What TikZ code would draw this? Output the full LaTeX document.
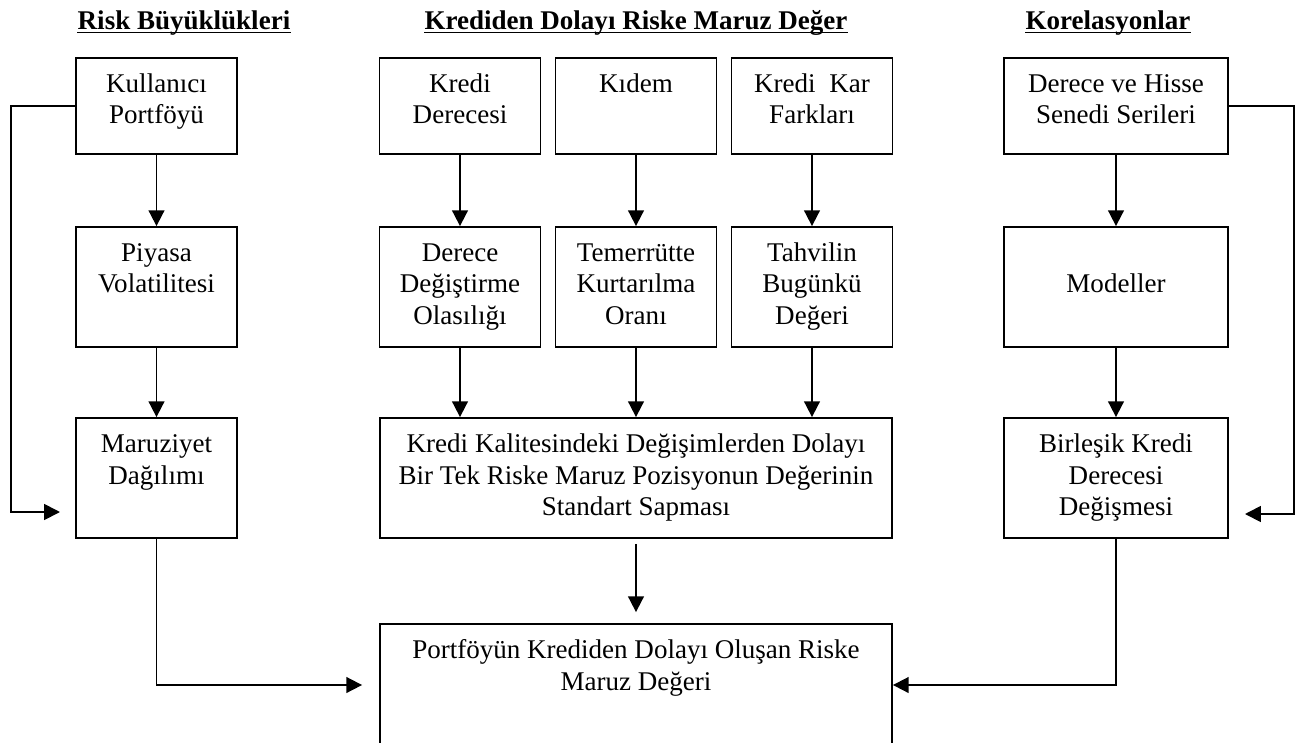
\documentclass[tikz,border=0pt]{standalone}
\usepackage{fontspec}
\setmainfont{Liberation Serif}
\usetikzlibrary{arrows.meta}

\newdimen\px \px=0.444pt % one pixel of the page
% box text: width, height, lines (first line sits at the top)
\newcommand{\kutuyazi}[3]{\parbox[c][#2\px][t]{#1\px}{\centering\rule{0pt}{15.5pt}#3}}

\tikzset{
  kutu/.style={draw, line width=0.8pt, inner sep=0pt, font=\fontsize{12}{13.8}\selectfont},
  ok/.style={-{Triangle[length=7pt,width=7pt]}, line width=0.8pt},
  baslik/.style={font=\fontsize{12}{13.8}\selectfont\bfseries, anchor=base, inner sep=0pt}
}

\begin{document}
\begin{tikzpicture}[x=0.444pt, y=-0.444pt]
    \useasboundingbox (0,0) rectangle (1301,742);

    % headings
    \node[baslik] (b1) at (184,29) {Risk Büyüklükleri};
    \node[baslik] (b2) at (636,29) {Krediden Dolayı Riske Maruz Değer};
    \node[baslik] (b3) at (1108,29) {Korelasyonlar};
    \foreach \b in {b1,b2,b3}
        \draw[line width=0.8pt] ([yshift=-3.5\px]\b.base west) -- ([yshift=-3.5\px]\b.base east);

    % left column
    \node[kutu] (kullanici) at (156.5,106) {\kutuyazi{161}{96}{Kullanıcı\\Portföyü}};
    \node[kutu] (piyasa) at (156.5,287) {\kutuyazi{161}{120}{Piyasa\\Volatilitesi}};
    \node[kutu] (maruziyet) at (156.5,478) {\kutuyazi{161}{120}{Maruziyet\\Dağılımı}};

    % middle column
    \node[kutu] (kredi) at (460,106) {\kutuyazi{161}{96}{Kredi\\Derecesi}};
    \node[kutu] (kidem) at (636,106) {\kutuyazi{161}{96}{Kıdem}};
    \node[kutu] (kar) at (812,106) {\kutuyazi{161}{96}{Kredi\ \ Kar\\Farkları}};
    \node[kutu] (olasilik) at (460,287) {\kutuyazi{161}{120}{Derece\\Değiştirme\\Olasılığı}};
    \node[kutu] (kurtarma) at (636,287) {\kutuyazi{161}{120}{Temerrütte\\Kurtarılma\\Oranı}};
    \node[kutu] (bugunku) at (812,287) {\kutuyazi{161}{120}{Tahvilin\\Bugünkü\\Değeri}};
    \node[kutu] (sapma) at (636,478) {\kutuyazi{512}{120}{Kredi Kalitesindeki Değişimlerden Dolayı\\Bir Tek Riske Maruz Pozisyonun Değerinin\\Standart Sapması}};
    \node[kutu] (portfoy) at (636,685) {\kutuyazi{512}{122}{Portföyün Krediden Dolayı Oluşan Riske\\Maruz Değeri}};

    % right column
    \node[kutu] (seriler) at (1116,106) {\kutuyazi{224}{96}{Derece ve Hisse\\Senedi Serileri}};
    \node[kutu] (modeller) at (1116,287) {\kutuyazi{224}{120}{\\Modeller}};
    \node[kutu] (birlesik) at (1116,478) {\kutuyazi{224}{120}{Birleşik Kredi\\Derecesi\\Değişmesi}};

    \coordinate (solok) at (60,512);
    \coordinate (sagok) at (1245,514);

    % arrows down the columns
    \draw[ok] (kullanici) -- (piyasa);
    \draw[ok] (piyasa) -- (maruziyet);
    \draw[ok] (kredi) -- (olasilik);
    \draw[ok] (kidem) -- (kurtarma);
    \draw[ok] (kar) -- (bugunku);
    \foreach \k in {olasilik,kurtarma,bugunku}
        \draw[ok] (\k) -- (\k |- sapma.north);
    \draw[ok] (seriler) -- (modeller);
    \draw[ok] (modeller) -- (birlesik);
    \draw[ok, shorten <=5\px, shorten >=11\px] (sapma) -- (portfoy);

    % side lines
    \draw[ok] (kullanici.west) -- ++(-64,0) |- (solok);
    \draw[ok] (seriler.east) -- ++(65,0) |- (sagok);
    \draw[ok, shorten >=17\px] (maruziyet.south) |- (portfoy.west);
    \draw[ok] (birlesik.south) |- (portfoy.east);
\end{tikzpicture}
\end{document}
